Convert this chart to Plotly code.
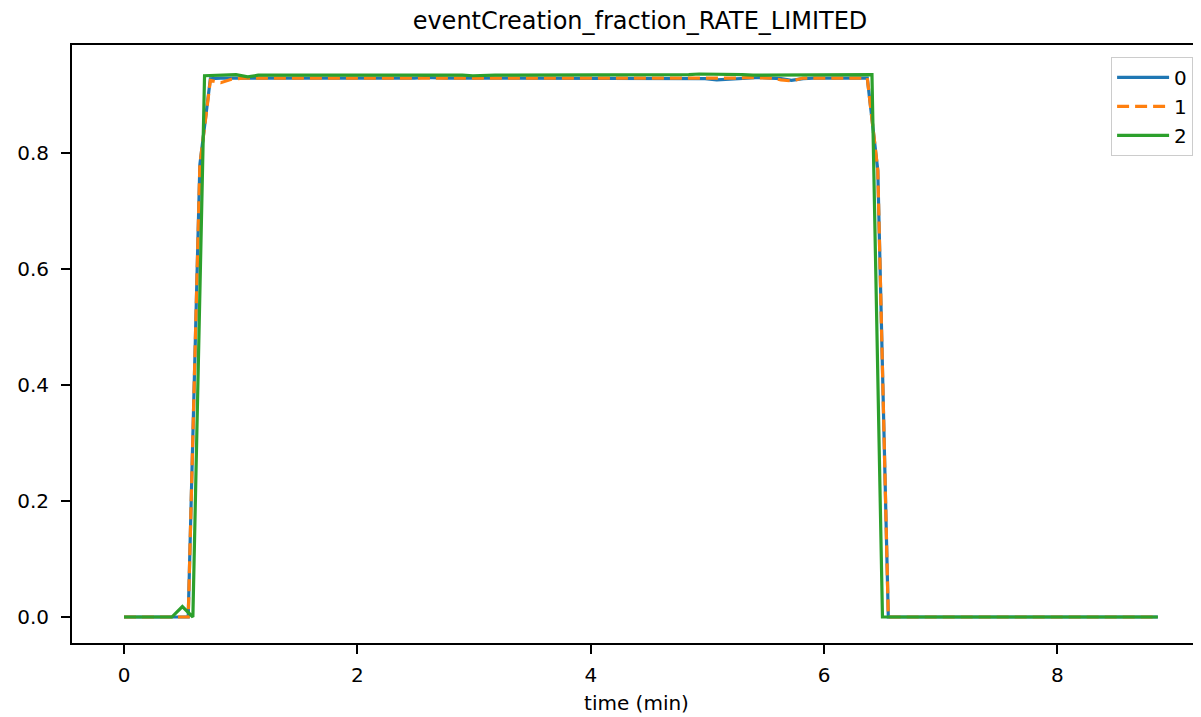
import plotly.graph_objects as go

title = "eventCreation_fraction_RATE_LIMITED"
x_label = "time (min)"
series_names = ["0", "1", "2"]

time_01 = [0.00, 0.09, 0.18, 0.28, 0.37, 0.46, 0.55, 0.65, 0.74, 0.83, 0.92, 1.02, 1.11, 1.20, 1.29, 1.38,
           1.48, 1.57, 1.66, 1.75, 1.85, 1.94, 2.03, 2.12, 2.22, 2.31, 2.40, 2.49, 2.58, 2.68, 2.77, 2.86,
           2.95, 3.05, 3.14, 3.23, 3.32, 3.42, 3.51, 3.60, 3.69, 3.78, 3.88, 3.97, 4.06, 4.15, 4.25, 4.34,
           4.43, 4.52, 4.62, 4.71, 4.80, 4.89, 4.98, 5.08, 5.17, 5.26, 5.35, 5.45, 5.54, 5.63, 5.72, 5.82,
           5.91, 6.00, 6.09, 6.18, 6.28, 6.37, 6.46, 6.55, 6.65, 6.74, 6.83, 6.92, 7.02, 7.11, 7.20, 7.29,
           7.38, 7.48, 7.57, 7.66, 7.75, 7.85, 7.94, 8.03, 8.12, 8.22, 8.31, 8.40, 8.49, 8.58, 8.68, 8.77,
           8.86]

time_2 = [0.00, 0.13, 0.22, 0.32, 0.41, 0.50, 0.59, 0.69, 0.78, 0.87, 0.96, 1.06, 1.15, 1.24, 1.33, 1.42,
          1.52, 1.61, 1.70, 1.79, 1.89, 1.98, 2.07, 2.16, 2.26, 2.35, 2.44, 2.53, 2.62, 2.72, 2.81, 2.90,
          2.99, 3.09, 3.18, 3.27, 3.36, 3.46, 3.55, 3.64, 3.73, 3.82, 3.92, 4.01, 4.10, 4.19, 4.29, 4.38,
          4.47, 4.56, 4.66, 4.75, 4.84, 4.93, 5.02, 5.12, 5.21, 5.30, 5.39, 5.49, 5.58, 5.67, 5.76, 5.86,
          5.95, 6.04, 6.13, 6.22, 6.32, 6.41, 6.50, 6.59, 6.69, 6.78, 6.87, 6.96, 7.06, 7.15, 7.24, 7.33,
          7.42, 7.52, 7.61, 7.70, 7.79, 7.89, 7.98, 8.07, 8.16, 8.26, 8.35, 8.44, 8.53, 8.62, 8.72, 8.86]

values_0 = [0, 0, 0, 0, 0, 0, 0, 0.78, 0.928, 0.929, 0.929, 0.929, 0.928, 0.928, 0.929, 0.929,
            0.929, 0.929, 0.929, 0.929, 0.929, 0.929, 0.929, 0.929, 0.929, 0.929, 0.929, 0.929, 0.930, 0.929, 0.929, 0.929,
            0.929, 0.928, 0.929, 0.929, 0.929, 0.929, 0.929, 0.929, 0.929, 0.929, 0.929, 0.929, 0.929, 0.929, 0.929, 0.929,
            0.929, 0.929, 0.929, 0.929, 0.929, 0.929, 0.928, 0.926, 0.927, 0.929, 0.930, 0.930, 0.929, 0.928, 0.925, 0.928,
            0.929, 0.929, 0.929, 0.929, 0.929, 0.929, 0.77, 0, 0, 0, 0, 0, 0, 0, 0, 0,
            0, 0, 0, 0, 0, 0, 0, 0, 0, 0, 0, 0, 0, 0, 0, 0,
            0]

values_1 = [0, 0, 0, 0, 0, 0, 0, 0.78, 0.925, 0.921, 0.927, 0.929, 0.929, 0.929, 0.929, 0.929,
            0.929, 0.929, 0.929, 0.929, 0.929, 0.929, 0.929, 0.929, 0.929, 0.929, 0.929, 0.928, 0.929, 0.929, 0.929, 0.929,
            0.929, 0.929, 0.929, 0.929, 0.928, 0.929, 0.929, 0.929, 0.929, 0.929, 0.929, 0.929, 0.929, 0.929, 0.929, 0.929,
            0.929, 0.929, 0.929, 0.929, 0.929, 0.929, 0.929, 0.929, 0.929, 0.929, 0.930, 0.930, 0.929, 0.926, 0.924, 0.929,
            0.929, 0.929, 0.929, 0.929, 0.929, 0.929, 0.77, 0, 0, 0, 0, 0, 0, 0, 0, 0,
            0, 0, 0, 0, 0, 0, 0, 0, 0, 0, 0, 0, 0, 0, 0, 0,
            0]

values_2 = [0, 0, 0, 0, 0, 0.018, 0, 0.933, 0.934, 0.935, 0.935, 0.931, 0.934, 0.934, 0.934, 0.934,
            0.934, 0.934, 0.934, 0.934, 0.934, 0.934, 0.934, 0.934, 0.934, 0.934, 0.934, 0.935, 0.934, 0.934, 0.934, 0.934,
            0.933, 0.934, 0.934, 0.934, 0.934, 0.934, 0.934, 0.934, 0.934, 0.934, 0.934, 0.935, 0.934, 0.934, 0.934, 0.934,
            0.934, 0.934, 0.934, 0.934, 0.935, 0.936, 0.936, 0.936, 0.935, 0.935, 0.934, 0.934, 0.934, 0.934, 0.934, 0.934,
            0.934, 0.934, 0.934, 0.935, 0.935, 0.935, 0, 0, 0, 0, 0, 0, 0, 0, 0, 0,
            0, 0, 0, 0, 0, 0, 0, 0, 0, 0, 0, 0, 0, 0, 0, 0]

x_ticks = [0, 2, 4, 6, 8]
y_ticks = [0.0, 0.2, 0.4, 0.6, 0.8]

FONT = "DejaVu Sans"
W, H = 1201, 717
OFF = 8  # page body margin
LW = 3.2

fig = go.Figure()
fig.add_trace(go.Scatter(x=time_01, y=values_0, mode="lines", name=series_names[0],
                         line=dict(color="#1f77b4", width=LW)))
fig.add_trace(go.Scatter(x=time_01, y=values_1, mode="lines", name=series_names[1],
                         line=dict(color="#ff7f0e", width=LW, dash="12px,6px")))
fig.add_trace(go.Scatter(x=time_2, y=values_2, mode="lines", name=series_names[2],
                         line=dict(color="#2ca02c", width=LW)))

fig.update_layout(
    width=W, height=H,
    margin=dict(l=72 - OFF, r=OFF, t=45 - OFF, b=H - (643 - OFF)),
    paper_bgcolor="white", plot_bgcolor="white",
    font=dict(family=FONT, size=20, color="black"),
    title=dict(text=title, x=(640 - OFF) / W, xanchor="center",
               y=1 - (21 - OFF) / H, yanchor="middle", font=dict(size=24, family=FONT)),
    showlegend=True,
    legend=dict(x=0.993, xanchor="right", y=0.98, yanchor="top",
                bgcolor="white", bordercolor="#cccccc", borderwidth=1, itemwidth=52,
                font=dict(size=20, family=FONT)),
    xaxis=dict(range=[-0.446, 9.23], tickvals=x_ticks, ticktext=[str(v) for v in x_ticks],
               showgrid=False, zeroline=False, showline=True, linecolor="black", linewidth=2,
               mirror=True, ticks="outside", ticklen=9, tickwidth=2, tickcolor="black",
               ticklabelstandoff=4,
               tickfont=dict(size=20), title=dict(text=x_label, font=dict(size=20), standoff=10)),
    yaxis=dict(range=[-0.0448, 0.986], tickvals=y_ticks, ticktext=[f"{v:.1f}" for v in y_ticks],
               showgrid=False, zeroline=False, showline=True, linecolor="black", linewidth=2,
               mirror=False, ticks="outside", ticklen=9, tickwidth=2, tickcolor="black",
               ticklabelstandoff=8,
               tickfont=dict(size=20)),
)

fig.write_html("out.html")
